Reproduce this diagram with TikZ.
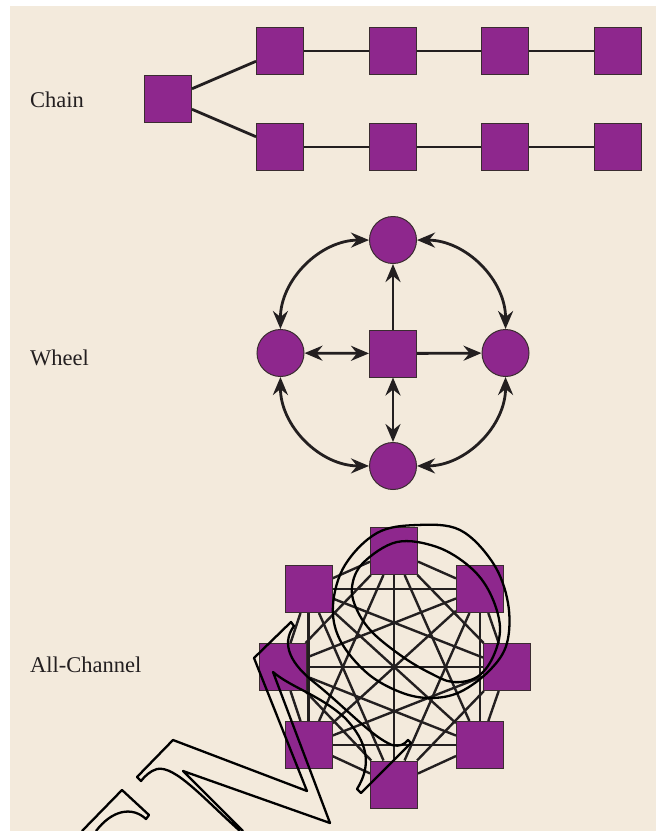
\documentclass[tikz,border=0pt]{standalone}
\usepackage{fontspec}
\setmainfont{Liberation Serif}
\usepackage{xcolor}
\usepackage{tikz}
\usetikzlibrary{arrows.meta}
\definecolor{netpurple}{HTML}{8E278D}
\definecolor{paper}{HTML}{F3EADC}
\definecolor{ink}{HTML}{231F20}
\definecolor{rim}{HTML}{3A2C30}
\pgfdeclarelayer{background}
\pgfsetlayers{background,main}

\begin{document}
\begin{tikzpicture}[x=1pt,y=-1pt,
sq/.style={draw=rim,line width=1pt,fill=netpurple,minimum size=47pt,inner sep=0pt},
rd/.style={sq,circle},
lbl/.style={anchor=base west,inner sep=0pt,text=ink,font=\fontsize{22.5}{26}\selectfont},
link/.style={draw=ink,line width=2.8pt},
mesh/.style={draw=ink,line width=2.4pt},
tip/.style={-{Stealth[length=18pt,width=15pt,inset=6pt]}},
dtip/.style={{Stealth[length=18pt,width=15pt,inset=6pt]}-{Stealth[length=18pt,width=15pt,inset=6pt]}},
scrib/.style={draw=black,line width=2.3pt,line join=round}]
\useasboundingbox (0,0) rectangle (656,831);
\begin{pgfonlayer}{background}
\fill[white] (0,0) rectangle (656,831);
\fill[paper] (10,6) rectangle (656,831);
\end{pgfonlayer}

% chain
\node[lbl] (lchain) at (30,107) {Chain};
\node[sq] (root) at (168,99) {};
\foreach \n/\x in {1/280,2/393,3/505,4/618}{
  \node[sq] (t\n) at (\x,51) {};
  \node[sq] (b\n) at (\x,147) {};
}
\draw[link] (root)--(t1); \draw[link] (root)--(b1);
\draw[link] (t1)--(t2); \draw[link] (t2)--(t3); \draw[link] (t3)--(t4);
\draw[link] (b1)--(b2); \draw[link] (b2)--(b3); \draw[link] (b3)--(b4);

% wheel
\node[lbl] (lwheel) at (30,365) {Wheel};
\node[sq] (hub) at (393,353.5) {};
\node[rd] (wt) at (393,240) {};
\node[rd] (wl) at (280.5,353) {};
\node[rd] (wr) at (505.5,353) {};
\node[rd] (wb) at (393,466) {};
\draw[link,tip] (hub)--(wt); \draw[link,tip] (hub)--(wr);
\draw[link,dtip] (hub)--(wl); \draw[link,dtip] (hub)--(wb);
\draw[link,dtip] (wt) to[bend right=45] (wl);
\draw[link,dtip] (wl) to[bend right=45] (wb);
\draw[link,dtip] (wb) to[bend right=45] (wr);
\draw[link,dtip] (wr) to[bend right=45] (wt);

% all-channel
\node[lbl] (lall) at (30,672) {All-Channel};
\foreach \n/\p in {1/{394,551},2/{480,589},3/{507,667},4/{480,745},5/{394,784.5},6/{308.5,745},7/{282.5,667},8/{308.5,589}}
  \node[sq] (a\n) at (\p) {};
\begin{pgfonlayer}{background}
\foreach \i in {1,...,7}{
  \pgfmathtruncatemacro\k{\i+1}
  \foreach \j in {\k,...,8} \draw[mesh] (a\i)--(a\j);
}
\end{pgfonlayer}

% scribble on top
\draw[scrib] (82,831)--(122,790)--(149,815)--(146,819) .. controls (132,806) and (112,810) .. (96,831);
\draw[scrib] (240,831) .. controls (205,800) and (175,765) .. (157,769) .. controls (150,771) and (145,776) .. (141,781)
  --(137,777)--(173,740)--(307,791)--(254,658)--(291,622)--(294,626)
  .. controls (280,645) and (292,665) .. (315,683) .. controls (345,707) and (372,737) .. (392,745)
  .. controls (400,747) and (405,744) .. (408,740)--(411,743)--(361,793)--(357,789)
  .. controls (372,765) and (368,742) .. (345,718) .. controls (320,695) and (292,688) .. (273,672)
  --(330,823)--(183,771)--(243,831);
\draw[scrib] plot[smooth cycle,tension=0.6] coordinates {(417,525) (460,530) (493,563) (508,603) (507,643) (490,670) (460,692) (430,698) (400,692) (367,673) (340,640) (333,605) (345,565) (377,533)};
\draw[scrib] plot[smooth cycle,tension=0.6] coordinates {(397,542) (437,547) (470,567) (490,593) (500,627) (493,657) (477,677) (453,682) (430,673) (403,657) (373,633) (357,610) (352,587) (363,563)};
\end{tikzpicture}
\end{document}
